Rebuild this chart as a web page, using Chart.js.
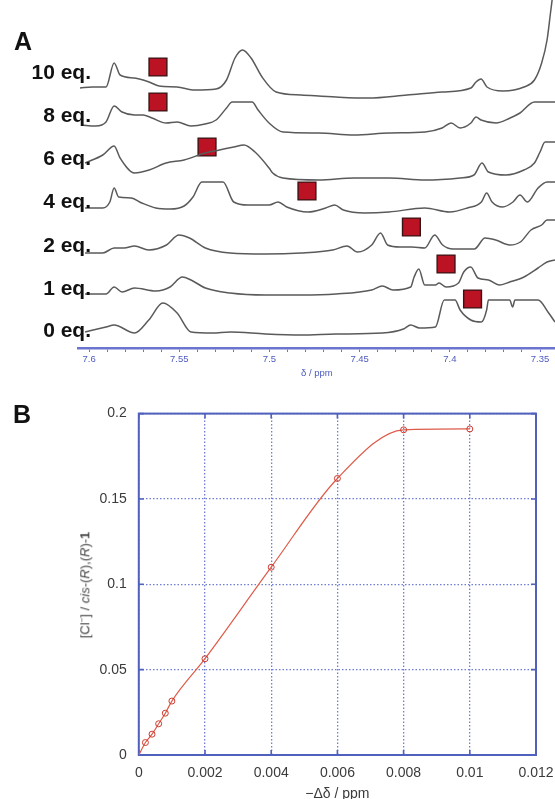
<!DOCTYPE html>
<html><head><meta charset="utf-8">
<script src="https://cdn.jsdelivr.net/npm/chart.js@4.4.1/dist/chart.umd.min.js"></script>
<style>
html,body{margin:0;padding:0;background:#fff;}
#wrap{position:relative;width:555px;height:799px;overflow:hidden;font-family:"Liberation Sans",Arial,sans-serif;}
canvas{position:absolute;left:0;}
#cA{top:0;}
#cB{top:380px;}
.lbl{position:absolute;font-weight:bold;font-size:21px;line-height:1;color:#111;white-space:nowrap;transform:translate(-100%,-50%);}
.panel{position:absolute;font-weight:bold;font-size:25px;line-height:1;color:#111;transform:translateY(-50%);}
#ytitle{position:absolute;left:85px;top:585px;font-size:13px;line-height:1;color:#444;white-space:nowrap;transform:translate(-50%,-50%) rotate(-90deg);}
#ytitle sup{font-size:8px;}
</style></head>
<body><div id="wrap">
<canvas id="cA" width="555" height="380"></canvas>
<canvas id="cB" width="555" height="419"></canvas>
<div class="panel" style="left:14px;top:41px">A</div>
<div class="panel" style="left:13px;top:414px">B</div>
<div id="ytitle">[Cl<sup>−</sup>] / <i>cis</i>-(<i>R</i>),(<i>R</i>)-<b>1</b></div>
</div>
<script>
// ---------- Panel A data (NMR traces, ppm vs relative intensity) ----------
const traceLabels = ['10 eq.', '8 eq.', '6 eq.', '4 eq.', '2 eq.', '1 eq.', '0 eq.'];
const traceOffsets = [251, 214, 168, 134, 94, 53, 13];

const ppm10 = [7.6050, 7.5983, 7.5906, 7.5861, 7.5828, 7.5748, 7.5667, 7.5612, 7.5512, 7.5413, 7.5296, 7.5238, 7.5191, 7.5149, 7.5102, 7.5041, 7.4963, 7.4825, 7.4631, 7.4453, 7.4237, 7.4043, 7.3883, 7.3855, 7.3827, 7.3794, 7.3705, 7.3589, 7.3531, 7.3491, 7.3461, 7.3442, 7.3433];
const int10 = [9, 10, 10, 34, 22, 19, 15, 11, 10, 7, 8, 17, 39, 47, 39, 20, 5, 2, 0, -1, 2, 5, 9, 15, 18, 10, 6, 10, 17, 34, 57, 84, 97];

const ppm8 = [7.6044, 7.5963, 7.5906, 7.5861, 7.5817, 7.5748, 7.5701, 7.5651, 7.5573, 7.5512, 7.5435, 7.5357, 7.5296, 7.5238, 7.5207, 7.5096, 7.5063, 7.5002, 7.4925, 7.4727, 7.4531, 7.4337, 7.4137, 7.4043, 7.3993, 7.3943, 7.3883, 7.3855, 7.3827, 7.3744, 7.3666, 7.3611, 7.3531, 7.3417];
const int8 = [9, 8, 12, 28, 22, 19, 19, 16, 11, 12, 8, 10, 14, 26, 32, 32, 24, 11, 2, 1, -1, 1, 2, 6, 11, 6, 11, 17, 14, 11, 16, 21, 32, 32];

const ppm6 = [7.6022, 7.5924, 7.5861, 7.5828, 7.5748, 7.5667, 7.5573, 7.5473, 7.5357, 7.5277, 7.5198, 7.5141, 7.5080, 7.5002, 7.4982, 7.4925, 7.4727, 7.4531, 7.4337, 7.4137, 7.3943, 7.3866, 7.3822, 7.3786, 7.3688, 7.3589, 7.3531, 7.3500, 7.3472, 7.3417];
const int6 = [17, 25, 34, 22, 7, 10, 17, 20, 27, 30, 33, 35, 28, 12, 7, 2, 0, 2, 2, 0, 2, 5, 17, 8, 5, 10, 17, 28, 38, 38];

const ppm4 = [7.6022, 7.5924, 7.5885, 7.5861, 7.5836, 7.5767, 7.5708, 7.5630, 7.5551, 7.5473, 7.5424, 7.5375, 7.5257, 7.5198, 7.5119, 7.5002, 7.4952, 7.4904, 7.4786, 7.4688, 7.4639, 7.4590, 7.4472, 7.4337, 7.4139, 7.4001, 7.3903, 7.3825, 7.3796, 7.3766, 7.3707, 7.3650, 7.3611, 7.3570, 7.3511, 7.3461, 7.3417];
const int4 = [6, 6, 12, 26, 17, 16, 11, 6, 5, 8, 17, 32, 32, 12, 9, 9, 12, 7, 2, 6, 9, 4, 1, 2, 6, 2, 6, 12, 21, 12, 7, 12, 19, 12, 26, 32, 32];

const ppm2 = [7.6022, 7.5924, 7.5861, 7.5806, 7.5748, 7.5669, 7.5571, 7.5502, 7.5443, 7.5355, 7.5218, 7.5022, 7.4825, 7.4649, 7.4570, 7.4512, 7.4433, 7.4384, 7.4345, 7.4276, 7.4210, 7.4139, 7.4084, 7.4040, 7.3982, 7.3864, 7.3805, 7.3746, 7.3668, 7.3609, 7.3550, 7.3491, 7.3461, 7.3417];
const int2 = [1, 1, 6, 6, 8, 4, 9, 19, 16, 6, 1, 0, 1, 4, 8, 2, 9, 21, 9, 7, 7, 6, 19, 9, 5, 5, 16, 14, 9, 12, 24, 29, 34, 34];

const ppm1 = [7.6022, 7.5906, 7.5861, 7.5817, 7.5748, 7.5630, 7.5551, 7.5483, 7.5435, 7.5355, 7.5218, 7.5022, 7.4825, 7.4631, 7.4433, 7.4374, 7.4315, 7.4217, 7.4198, 7.4172, 7.4139, 7.4080, 7.4060, 7.4021, 7.3952, 7.3923, 7.3884, 7.3844, 7.3786, 7.3727, 7.3668, 7.3589, 7.3511, 7.3461, 7.3417];
const int1 = [1, 1, 8, 3, 7, 4, 8, 18, 15, 7, 2, 0, 0, 1, 5, 9, 5, 8, 18, 26, 10, 10, 12, 8, 12, 23, 28, 17, 15, 10, 13, 18, 27, 33, 35];

const ppm0 = [7.6022, 7.5906, 7.5861, 7.5748, 7.5669, 7.5591, 7.5512, 7.5435, 7.5316, 7.5218, 7.5022, 7.4825, 7.4631, 7.4374, 7.4257, 7.4217, 7.4168, 7.4080, 7.4031, 7.3971, 7.3943, 7.3884, 7.3825, 7.3796, 7.3786, 7.3668, 7.3652, 7.3639, 7.3511, 7.3452, 7.3417];
const int0 = [3, 8, 10, 2, 15, 32, 22, 3, 2, 3, 1, 0, 1, 2, 6, 10, 7, 8, 35, 35, 25, 15, 13, 25, 35, 35, 28, 35, 35, 22, 13];

// red square markers: shift position (ppm) and height above each trace's baseline
const squarePpm = [7.5618, 7.5618, 7.5346, 7.4792, 7.4213, 7.4021, 7.3874];
const squareHeight = [30, 32, 33, 23, 27, 31, 36];

const aTickValues = [7.6, 7.55, 7.5, 7.45, 7.4, 7.35];
const aTickLabels = ['7.6', '7.55', '7.5', '7.45', '7.4', '7.35'];

// ---------- Panel B data ----------
const bX = [0, 0.0002, 0.0004, 0.0006, 0.0008, 0.001, 0.002, 0.004, 0.006, 0.008, 0.010];
const bY = [0, 0.0073, 0.0122, 0.0183, 0.0245, 0.0316, 0.0564, 0.110, 0.162, 0.1905, 0.191];
const bXTicks = [0, 0.002, 0.004, 0.006, 0.008, 0.010, 0.012];
const bXTickLabels = ['0', '0.002', '0.004', '0.006', '0.008', '0.01', '0.012'];
const bYTicks = [0, 0.05, 0.1, 0.15, 0.2];
const bYTickLabels = ['0', '0.05', '0.1', '0.15', '0.2'];

// ---------- layout ----------
const FAM = '"Liberation Sans", Arial, Helvetica, sans-serif';
Chart.defaults.font.family = FAM;
const labelCenterY = [71, 114, 157, 200, 244, 287, 329];
const wrap = document.getElementById('wrap');
traceLabels.forEach((t, i) => {
  const d = document.createElement('div');
  d.className = 'lbl';
  d.style.left = '91px';
  d.style.top = labelCenterY[i] + 'px';
  d.textContent = t;
  wrap.appendChild(d);
});

const traces = [[ppm10, int10], [ppm8, int8], [ppm6, int6], [ppm4, int4], [ppm2, int2], [ppm1, int1], [ppm0, int0]];
const dsA = traces.map((t, i) => ({
  data: t[0].map((p, j) => ({ x: p, y: traceOffsets[i] + t[1][j] })),
  borderColor: '#5a5a5a',
  borderWidth: 1.5,
  pointRadius: 0,
  tension: 0.3,
  cubicInterpolationMode: 'monotone',
  fill: false
}));
dsA.push({
  data: squarePpm.map((p, i) => ({ x: p, y: traceOffsets[i] + squareHeight[i] })),
  showLine: false,
  pointStyle: 'rect',
  pointRadius: 12.6,
  backgroundColor: '#bb1224',
  borderColor: '#3a1414',
  borderWidth: 1.4
});

const minorA = [];
for (let k = 0; k <= 25; k++) minorA.push(+(7.35 + k * 0.01).toFixed(2));

const blueA = '#6b74cf';
new Chart(document.getElementById('cA'), {
  type: 'line',
  data: { datasets: dsA },
  options: {
    responsive: false, animation: false, devicePixelRatio: 1,
    layout: { autoPadding: false, padding: { left: 78.6, right: 0, top: 0, bottom: 0 } },
    plugins: { legend: { display: false }, tooltip: { enabled: false } },
    scales: {
      x: {
        type: 'linear', reverse: true, min: 7.3417, max: 7.6058,
        afterBuildTicks: s => { s.ticks = minorA.map(v => ({ value: v })); },
        afterFit: s => { s.height = 32; s.paddingLeft = 0; s.paddingRight = 0; },
        ticks: {
          autoSkip: false, maxRotation: 0, padding: 2, color: '#4d5bbf',
          font: { size: 9.5 },
          callback: v => { const k = aTickValues.findIndex(a => Math.abs(a - v) < 1e-6); return k >= 0 ? aTickLabels[k] : ''; }
        },
        grid: { drawOnChartArea: false, drawTicks: true, tickLength: 4, color: blueA, lineWidth: 1 },
        border: { display: true, color: blueA, width: 2.5 },
        title: { display: true, text: 'δ / ppm', color: '#4d5bbf', font: { size: 9.5 }, padding: { top: 0, bottom: 1 } }
      },
      y: { display: false, min: 0, max: 348 }
    }
  }
});

// ---------- Panel B ----------
const frameBlue = '#5060bd';
const frameB = {
  id: 'frameB',
  beforeDatasetsDraw(chart) {
    const { ctx, chartArea: a, scales } = chart;
    ctx.save();
    ctx.strokeStyle = frameBlue;
    ctx.lineWidth = 1.6;
    const L = 5;
    scales.x.ticks.forEach(t => {
      const px = scales.x.getPixelForValue(t.value);
      ctx.beginPath();
      ctx.moveTo(px, a.bottom); ctx.lineTo(px, a.bottom - L);
      ctx.moveTo(px, a.top); ctx.lineTo(px, a.top + L);
      ctx.stroke();
    });
    scales.y.ticks.forEach(t => {
      const py = scales.y.getPixelForValue(t.value);
      ctx.beginPath();
      ctx.moveTo(a.left, py); ctx.lineTo(a.left + L, py);
      ctx.moveTo(a.right, py); ctx.lineTo(a.right - L, py);
      ctx.stroke();
    });
    ctx.lineWidth = 2;
    ctx.strokeRect(a.left, a.top, a.right - a.left, a.bottom - a.top);
    ctx.restore();
  }
};

const gridBlue = '#6f7dd6';
new Chart(document.getElementById('cB'), {
  type: 'line',
  data: {
    datasets: [{
      data: bX.map((x, i) => ({ x, y: bY[i] })),
      borderColor: '#de5b49',
      borderWidth: 1.2,
      tension: 0.3,
      cubicInterpolationMode: 'monotone',
      pointRadius: ctx => (ctx.dataIndex === 0 ? 0 : 3),
      pointBorderColor: '#cc3a30',
      pointBackgroundColor: 'rgba(255,255,255,0)',
      pointBorderWidth: 1,
      fill: false
    }]
  },
  options: {
    responsive: false, animation: false, devicePixelRatio: 1,
    layout: { autoPadding: false, padding: { left: 0, right: 19, top: 33.6, bottom: 0 } },
    plugins: { legend: { display: false }, tooltip: { enabled: false } },
    scales: {
      x: {
        type: 'linear', min: 0, max: 0.012,
        afterBuildTicks: s => { s.ticks = bXTicks.map(v => ({ value: v })); },
        afterFit: s => { s.height = 44; s.paddingLeft = 0; s.paddingRight = 0; },
        ticks: {
          autoSkip: false, maxRotation: 0, padding: 10, color: '#3a3a3a', font: { size: 14 },
          callback: v => { const k = bXTicks.findIndex(a => Math.abs(a - v) < 1e-9); return k >= 0 ? bXTickLabels[k] : ''; }
        },
        grid: { drawTicks: false, color: gridBlue, lineWidth: 1.3 },
        border: { display: false, dash: [1.5, 2] },
        title: { display: true, text: '−Δδ / ppm', color: '#3a3a3a', font: { size: 14 }, padding: { top: 0, bottom: -4 } }
      },
      y: {
        type: 'linear', min: 0, max: 0.2,
        afterBuildTicks: s => { s.ticks = bYTicks.map(v => ({ value: v })); },
        afterFit: s => { s.width = 138.8; s.paddingTop = 0; s.paddingBottom = 0; },
        ticks: {
          padding: 12, color: '#3a3a3a', font: { size: 14 },
          callback: v => { const k = bYTicks.findIndex(a => Math.abs(a - v) < 1e-9); return k >= 0 ? bYTickLabels[k] : ''; }
        },
        grid: { drawTicks: false, color: gridBlue, lineWidth: 1.3 },
        border: { display: false, dash: [1.5, 2] }
      }
    }
  },
  plugins: [frameB]
});
</script>
</body></html>
